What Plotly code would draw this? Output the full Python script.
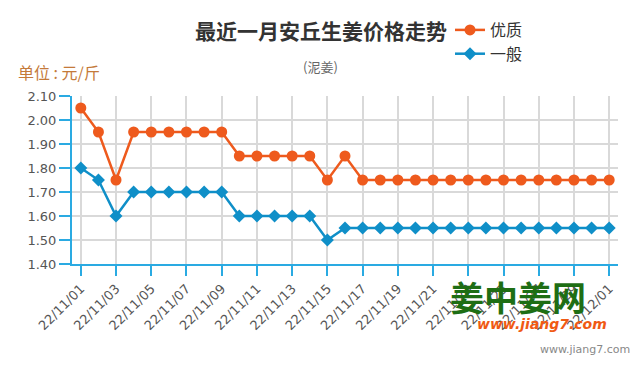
import plotly.graph_objects as go

dates = ["22/11/%02d" % d for d in range(1, 31)] + ["22/12/01"]
youzhi = [2.05, 1.95, 1.75, 1.95, 1.95, 1.95, 1.95, 1.95, 1.95,
          1.85, 1.85, 1.85, 1.85, 1.85, 1.75, 1.85,
          1.75, 1.75, 1.75, 1.75, 1.75, 1.75, 1.75, 1.75, 1.75, 1.75,
          1.75, 1.75, 1.75, 1.75, 1.75]
yiban = [1.80, 1.75, 1.60, 1.70, 1.70, 1.70, 1.70, 1.70, 1.70,
         1.60, 1.60, 1.60, 1.60, 1.60, 1.50,
         1.55, 1.55, 1.55, 1.55, 1.55, 1.55, 1.55, 1.55, 1.55, 1.55,
         1.55, 1.55, 1.55, 1.55, 1.55, 1.55]
yticks = [1.40, 1.50, 1.60, 1.70, 1.80, 1.90, 2.00, 2.10]

ORANGE = "#ee5a1d"
BLUE = "#0f8fc8"
AXIS = "#2aaae2"
idx = list(range(len(dates)))

fig = go.Figure()
fig.add_trace(go.Scatter(x=idx, y=youzhi, name="优质", mode="lines+markers",
                         line=dict(color=ORANGE, width=2.5),
                         marker=dict(color=ORANGE, size=11, symbol="circle")))
fig.add_trace(go.Scatter(x=idx, y=yiban, name="一般", mode="lines+markers",
                         line=dict(color=BLUE, width=2.5),
                         marker=dict(color=BLUE, size=10, symbol="diamond")))

tickvals = idx[::2]
OFF = 8  # page body margin
W, H = 640 - OFF, 370 - OFF
# plot area in screen pixels
L, R, T, B = 72, 618, 96, 264
PW, PH = R - L, B - T

def px(x):
    return (x - L) / PW

def py(y):
    return (B - y) / PH

fig.update_layout(
    width=W, height=H,
    margin=dict(l=L - OFF, r=W - (R - OFF), t=T - OFF, b=H - (B - OFF), autoexpand=False),
    paper_bgcolor="white", plot_bgcolor="white",
    font=dict(family="DejaVu Sans, Noto Sans CJK SC", size=12, color="#555"),
    showlegend=True,
    legend=dict(x=px(450), y=py(13), xanchor="left", yanchor="top",
                font=dict(size=16, color="#333", family="Noto Sans CJK SC"),
                bgcolor="rgba(0,0,0,0)", itemwidth=30, tracegroupgap=0),
    xaxis=dict(range=[-0.5, 30.5], tickmode="array", tickvals=tickvals,
               ticktext=[dates[i] for i in tickvals], tickangle=-45,
               showgrid=True, gridcolor="#d9d9d9", gridwidth=1.5,
               showline=True, linecolor=AXIS, linewidth=2,
               ticks="outside", ticklen=10, tickcolor=AXIS, tickwidth=1.5,
               tickfont=dict(size=13, color="#555"), zeroline=False, automargin=False),
    yaxis=dict(range=[1.40, 2.10], tickmode="array", tickvals=yticks,
               ticktext=["%.2f" % v for v in yticks],
               showgrid=True, gridcolor="#d9d9d9", gridwidth=1.5,
               showline=True, linecolor=AXIS, linewidth=2,
               ticks="outside", ticklen=11, tickcolor=AXIS, tickwidth=1.5,
               tickfont=dict(size=13, color="#555"), zeroline=False, automargin=False),
    annotations=[
        dict(text="<b>最近一月安丘生姜价格走势</b>", xref="paper", yref="paper",
             x=px(321), y=py(30), xanchor="center", yanchor="middle",
             showarrow=False, font=dict(size=21, color="#333", family="Noto Sans CJK SC")),
        dict(text="(泥姜)", xref="paper", yref="paper",
             x=px(320), y=py(67), xanchor="center", yanchor="middle",
             showarrow=False, font=dict(size=13, color="#666", family="Noto Sans CJK SC")),
        dict(text="单位 : 元/斤", xref="paper", yref="paper",
             x=px(16), y=py(72), xanchor="left", yanchor="middle",
             showarrow=False, font=dict(size=16, color="#c47a3a", family="Noto Sans CJK SC")),
        dict(text="<b>姜中姜网</b>", xref="paper", yref="paper",
             x=px(518), y=py(296), xanchor="center", yanchor="middle",
             showarrow=False, font=dict(size=34, color="#1e6e14", family="Noto Sans CJK SC")),
        dict(text="<b><i>www.jiang7.com</i></b>", xref="paper", yref="paper",
             x=px(542), y=py(324), xanchor="center", yanchor="middle",
             showarrow=False, font=dict(size=14, color="#f05a14", family="DejaVu Sans")),
        dict(text="www.jiang7.com", xref="paper", yref="paper",
             x=px(632), y=py(349), xanchor="right", yanchor="middle",
             showarrow=False, font=dict(size=11, color="#888", family="DejaVu Sans")),
    ],
)

fig.write_html("out.html")
